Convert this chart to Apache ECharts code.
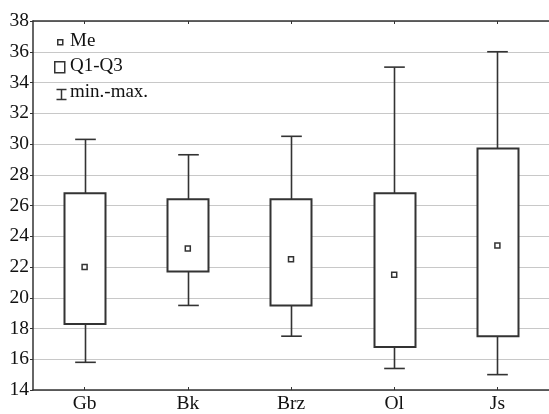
<!DOCTYPE html>
<html>
<head>
<meta charset="utf-8">
<script src="https://cdn.jsdelivr.net/npm/echarts@6/dist/echarts.min.js"></script>
<style>
html,body{margin:0;padding:0;background:#fff;}
#chart{width:549px;height:414px;}
</style>
</head>
<body>
<div id="chart"></div>
<script>
const categories = ['Gb', 'Bk', 'Brz', 'Ol', 'Js'];
const minVals = [15.8, 19.5, 17.5, 15.4, 15.0];
const q1Vals = [18.3, 21.7, 19.5, 16.8, 17.5];
const medianVals = [22.0, 23.2, 22.5, 21.5, 23.4];
const q3Vals = [26.8, 26.4, 26.4, 26.8, 29.7];
const maxVals = [30.3, 29.3, 30.5, 35.0, 36.0];
const yMin = 14, yMax = 38, yStep = 2;
const legendLabels = ['Me', 'Q1-Q3', 'min.-max.'];

const FONT = '"Liberation Serif", "DejaVu Serif", serif';
const DARK = '#333333';

const chart = echarts.init(document.getElementById('chart'), null, {renderer: 'canvas'});

const whiskerData = categories.map((c, i) => [i, minVals[i], maxVals[i]]);
const boxData = categories.map((c, i) => [i, q1Vals[i], q3Vals[i]]);
const medData = categories.map((c, i) => [i, medianVals[i]]);

chart.setOption({
  animation: false,
  backgroundColor: '#fff',
  grid: {left: 33, top: 21, width: 520, bottom: 20, containLabel: false},
  xAxis: [{
    type: 'category',
    data: categories,
    position: 'bottom',
    boundaryGap: true,
    axisLine: {show: true, lineStyle: {color: DARK, width: 1.5}},
    axisTick: {show: true, inside: true, length: 3, alignWithLabel: true, lineStyle: {color: DARK}},
    axisLabel: {color: '#111', fontFamily: FONT, fontSize: 19.5, margin: 4},
    splitLine: {show: false}
  }, {
    type: 'category',
    data: categories,
    position: 'top',
    boundaryGap: true,
    axisLine: {show: true, onZero: false, lineStyle: {color: DARK, width: 1.5}},
    axisTick: {show: true, inside: true, length: 3, alignWithLabel: true, lineStyle: {color: DARK}},
    axisLabel: {show: false},
    splitLine: {show: false}
  }],
  yAxis: {
    type: 'value',
    min: yMin, max: yMax, interval: yStep,
    axisLine: {show: true, lineStyle: {color: DARK, width: 1.5}},
    axisTick: {show: true, inside: false, length: 3, lineStyle: {color: DARK}},
    axisLabel: {color: '#111', fontFamily: FONT, fontSize: 19.5, margin: 4},
    splitLine: {show: true, lineStyle: {color: '#c8c8c8', width: 1.2}}
  },
  series: [{
    name: 'min.-max.',
    type: 'custom',
    data: whiskerData,
    encode: {x: 0, y: [1, 2]},
    renderItem: function (params, api) {
      const i = api.value(0);
      const lo = api.coord([i, api.value(1)]);
      const hi = api.coord([i, api.value(2)]);
      const cap = api.size([1, 0])[0] * 0.2;
      const x = Math.round(lo[0]) + 0.5;
      const style = {stroke: DARK, lineWidth: 1.6, fill: null};
      return {
        type: 'group',
        children: [
          {type: 'line', shape: {x1: x, y1: lo[1], x2: x, y2: hi[1]}, style: style},
          {type: 'line', shape: {x1: x - cap / 2, y1: lo[1], x2: x + cap / 2, y2: lo[1]}, style: style},
          {type: 'line', shape: {x1: x - cap / 2, y1: hi[1], x2: x + cap / 2, y2: hi[1]}, style: style}
        ]
      };
    },
    z: 2
  }, {
    name: 'Q1-Q3',
    type: 'custom',
    data: boxData,
    encode: {x: 0, y: [1, 2]},
    renderItem: function (params, api) {
      const i = api.value(0);
      const lo = api.coord([i, api.value(1)]);
      const hi = api.coord([i, api.value(2)]);
      const w = api.size([1, 0])[0] * 0.4;
      return {
        type: 'rect',
        shape: {x: Math.round(lo[0] - w / 2) + 0.5, y: hi[1], width: Math.round(w), height: lo[1] - hi[1]},
        style: {fill: '#fff', stroke: DARK, lineWidth: 2}
      };
    },
    z: 3
  }, {
    name: 'Me',
    type: 'scatter',
    data: medData,
    symbol: 'rect',
    symbolSize: 5,
    itemStyle: {color: '#fff', borderColor: DARK, borderWidth: 1.5, opacity: 1},
    z: 4
  }],
  graphic: [
    {type: 'rect', left: 57, top: 39, shape: {width: 5, height: 5}, style: {fill: '#fff', stroke: DARK, lineWidth: 1.5}, z: 10},
    {type: 'text', left: 70, top: 32, style: {text: legendLabels[0], fontFamily: FONT, fontSize: 19, fill: '#111'}, z: 10},
    {type: 'rect', left: 54, top: 61, shape: {width: 10, height: 11}, style: {fill: '#fff', stroke: DARK, lineWidth: 1.5}, z: 10},
    {type: 'text', left: 70, top: 57, style: {text: legendLabels[1], fontFamily: FONT, fontSize: 19, fill: '#111'}, z: 10},
    {type: 'group', left: 54, top: 87, z: 10, children: [
      {type: 'line', shape: {x1: 0, y1: 0.5, x2: 10, y2: 0.5}, style: {stroke: DARK, lineWidth: 1.5}},
      {type: 'line', shape: {x1: 5, y1: 0.5, x2: 5, y2: 10.5}, style: {stroke: DARK, lineWidth: 1.5}},
      {type: 'line', shape: {x1: 0, y1: 10.5, x2: 10, y2: 10.5}, style: {stroke: DARK, lineWidth: 1.5}}
    ]},
    {type: 'text', left: 70, top: 83, style: {text: legendLabels[2], fontFamily: FONT, fontSize: 19, fill: '#111'}, z: 10}
  ]
});
</script>
</body>
</html>
